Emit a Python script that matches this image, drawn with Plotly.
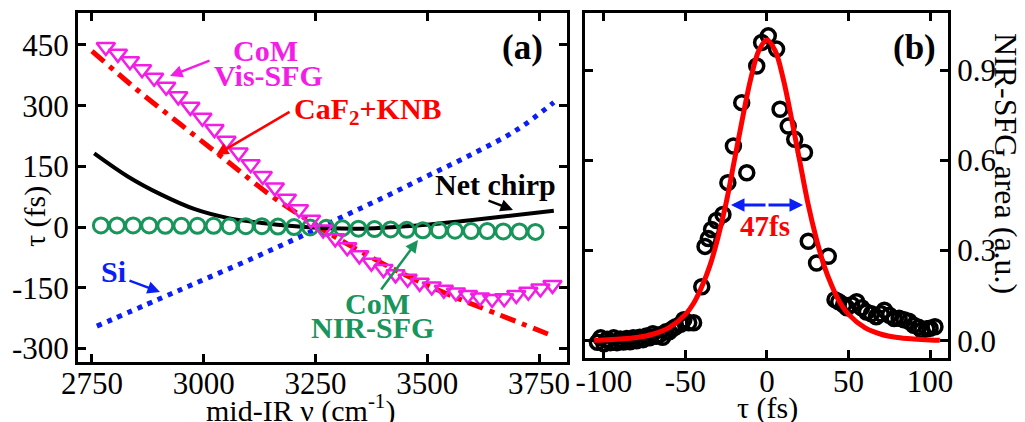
import plotly.graph_objects as go

W, H = 1025, 422
FONT = "Liberation Serif, Times New Roman, serif"

# ---------------- Panel (a) data ----------------
si_nu = [2761, 2900, 3000, 3100, 3200, 3300, 3400, 3500, 3600, 3700, 3783]
si_tau = [-245, -178, -130, -82, -32, 20, 72, 126, 180, 240, 308]

caf_nu = [2750, 2850, 2950, 3050, 3150, 3250, 3350, 3450, 3550, 3650, 3783]
caf_tau = [435, 340, 252, 165, 78, 5, -60, -118, -168, -212, -270]

net_nu = [2755, 2830, 2905, 2980, 3055, 3130, 3205, 3280, 3355, 3430, 3505, 3580, 3660, 3783]
net_tau = [182, 125, 80, 44, 22, 10, 2, -3, -4, 0, 6, 15, 25, 40]

vis_nu = [2781, 2808, 2835, 2862, 2889, 2916, 2943, 2970, 2997, 3024, 3051, 3078, 3105,
          3132, 3159, 3186, 3213, 3240, 3267, 3294, 3321, 3348, 3375, 3402, 3429, 3456,
          3483, 3510, 3537, 3564, 3591, 3618, 3645, 3672, 3699, 3726, 3753, 3780]
vis_tau = [445, 428, 410, 390, 369, 347, 323, 297, 270, 242, 213, 184, 155,
           126, 98, 70, 44, 18, -6, -28, -50, -70, -88, -104, -117, -128,
           -138, -147, -155, -162, -168, -174, -178, -176, -168, -160, -152, -143]

nir_nu = [2770, 2806, 2842, 2878, 2914, 2950, 2986, 3022, 3058, 3094, 3130, 3166, 3202, 3238,
          3274, 3310, 3346, 3382, 3418, 3454, 3490, 3526, 3562, 3598, 3634, 3670, 3706, 3742]
nir_tau = [4, 4, 4, 4, 3, 3, 3, 3, 2, 2, 2, 1, 0, -1,
           -2, -3, -4, -5, -6, -7, -8, -8, -9, -10, -10, -11, -11, -12]

a_xticks = [2750, 3000, 3250, 3500, 3750]
a_xticktext = ["2750", "3000", "3250", "3500", "3750"]
a_yticks = [-300, -150, 0, 150, 300, 450]
a_yticktext = ["-300", "-150", "0", "150", "300", "450"]

# ---------------- Panel (b) data ----------------
b_tau = [-104, -102, -100, -98, -96, -94, -92, -90, -88, -86, -84, -82, -80, -78, -76, -74,
         -72, -70, -68, -66, -64, -62, -60, -58, -56, -53, -51, -48, -45, -40, -38, -36,
         -34, -31, -27, -24, -20.6, -15.5, -12.4, -6.3, -3.3, 0.8, 5.9, 8, 13, 17, 23,
         25.3, 30.4, 37.6, 41.7, 44, 47, 49, 52, 55, 58, 61, 64, 67, 70, 72, 75, 78, 81,
         84, 87, 90, 93, 95, 98, 100, 103]
b_sig = [-0.005, 0.01, -0.01, 0.005, -0.006, 0.01, -0.006, 0.006, -0.004, 0.008, -0.003, 0.01,
         0.0, 0.012, 0.004, 0.016, 0.01, 0.024, 0.015, 0.02, 0.012, 0.03, 0.03, 0.04, 0.047,
         0.055, 0.07, 0.06, 0.06, 0.18, 0.314, 0.34, 0.37, 0.40, 0.42, 0.526, 0.648, 0.792,
         0.559, 0.914, 0.992, 1.014, 0.97, 0.77, 0.714, 0.67, 0.626, 0.331, 0.259, 0.281,
         0.137, 0.13, 0.12, 0.11, 0.12, 0.13, 0.11, 0.096, 0.09, 0.08, 0.09, 0.102, 0.085,
         0.074, 0.075, 0.07, 0.065, 0.052, 0.045, 0.035, 0.04, 0.042, 0.047]

fit_tau = [-106, -100, -90, -80, -70, -60, -50, -45, -40, -35, -30, -25, -20, -15, -10, -5, 0,
           5, 10, 15, 20, 25, 30, 35, 40, 45, 50, 60, 70, 80, 90, 100, 106]
fit_sig = [0.002, 0.003, 0.006, 0.011, 0.022, 0.044, 0.088, 0.125, 0.18, 0.25, 0.345, 0.46,
           0.6, 0.74, 0.87, 0.965, 1.0, 0.965, 0.87, 0.74, 0.6, 0.46, 0.345, 0.25, 0.18,
           0.125, 0.088, 0.044, 0.022, 0.011, 0.006, 0.003, 0.002]

b_xticks = [-100, -50, 0, 50, 100]
b_xticktext = ["-100", "-50", "0", "50", "100"]
b_yticks = [0.0, 0.3, 0.6, 0.9]
b_yticktext = ["0.0", "0.3", "0.6", "0.9"]

MAGENTA = "#F41DE6"
RED = "#FF0000"
BLUE = "#0A1EF5"
GREEN = "#17955A"

fig = go.Figure()

# Panel a traces
fig.add_trace(go.Scatter(x=si_nu, y=si_tau, mode="lines", line=dict(color=BLUE, width=5, dash="5px,6px", shape="spline"),
                         xaxis="x", yaxis="y", showlegend=False))
fig.add_trace(go.Scatter(x=caf_nu, y=caf_tau, mode="lines",
                         line=dict(color=RED, width=5, dash="16px,7px,5px,7px", shape="spline"),
                         xaxis="x", yaxis="y", showlegend=False))
fig.add_trace(go.Scatter(x=net_nu, y=net_tau, mode="lines", line=dict(color="black", width=4, shape="spline"),
                         xaxis="x", yaxis="y", showlegend=False))
fig.add_trace(go.Scatter(x=nir_nu, y=nir_tau, mode="markers",
                         marker=dict(symbol="circle-open", size=15, color=GREEN, line=dict(width=3, color=GREEN)),
                         xaxis="x", yaxis="y", showlegend=False))
fig.add_trace(go.Scatter(x=vis_nu, y=vis_tau, mode="markers",
                         marker=dict(symbol="triangle-down-open", size=16, color=MAGENTA, line=dict(width=2.5, color=MAGENTA)),
                         xaxis="x", yaxis="y", showlegend=False))

# Panel b traces
fig.add_trace(go.Scatter(x=b_tau, y=b_sig, mode="markers",
                         marker=dict(symbol="circle-open", size=14, color="black", line=dict(width=3.5, color="black")),
                         xaxis="x2", yaxis="y2", showlegend=False))
fig.add_trace(go.Scatter(x=fit_tau, y=fit_sig, mode="lines", line=dict(color=RED, width=5, shape="spline"),
                         xaxis="x2", yaxis="y2", showlegend=False))

axis_common = dict(showline=True, linecolor="black", linewidth=3, mirror="allticks", ticks="inside",
                   ticklen=8, tickwidth=3, tickcolor="black", showgrid=False, zeroline=False,
                   automargin=False, tickmode="array",
                   tickfont=dict(family=FONT, size=31, color="black"))

fig.update_layout(
    width=W, height=H, autosize=False,
    margin=dict(l=0, r=0, t=0, b=0, pad=0),
    paper_bgcolor="white", plot_bgcolor="white",
    xaxis=dict(domain=[78 / W, 567 / W], range=[2718.75, 3812.5], tickvals=a_xticks, ticktext=a_xticktext,
               anchor="y", ticklabelstandoff=-8, **axis_common),
    yaxis=dict(domain=[1 - 362 / H, 1 - 13 / H], range=[-333.6, 529], tickvals=a_yticks, ticktext=a_yticktext,
               anchor="x", **axis_common),
    xaxis2=dict(domain=[585 / W, 948 / W], range=[-111.6, 111], tickvals=b_xticks, ticktext=b_xticktext,
                anchor="y2", ticklabelstandoff=-6, **axis_common),
    yaxis2=dict(domain=[1 - 358 / H, 1 - 13 / H], range=[-0.057, 1.09], tickvals=b_yticks, ticktext=b_yticktext,
                side="right", anchor="x2", **axis_common),
)


def px(X):
    return X / W


def py(Y):
    return 1 - Y / H


anns = []


def text(X, Y, s, color="black", size=30, bold=True, angle=0):
    t = "<b>" + s + "</b>" if bold else s
    anns.append(dict(x=px(X), y=py(Y), xref="paper", yref="paper", text=t, showarrow=False,
                     xanchor="center", yanchor="middle", textangle=angle,
                     font=dict(family=FONT, size=size, color=color)))


def arrow(tx, ty, hx, hy, color, width=2.5, head=2, size=1.0):
    anns.append(dict(x=px(hx), y=py(hy), xref="paper", yref="paper", ax=tx - hx, ay=ty - hy,
                     axref="pixel", ayref="pixel", text="", showarrow=True, arrowhead=head,
                     arrowsize=size, arrowwidth=width, arrowcolor=color, standoff=0))


# Panel a labels
text(265, 50, "CoM", MAGENTA)
text(268, 76, "Vis-SFG", MAGENTA)
arrow(211, 60, 170, 76, MAGENTA)
text(368, 111, "CaF<sub>2</sub>+KNB", RED)
arrow(291, 111, 216, 155, RED)
text(495, 185, "Net chirp", "black")
arrow(487, 200, 513, 210, "black")
text(113, 271, "Si", BLUE)
arrow(128, 280, 160, 292, BLUE)
text(377, 303, "CoM", GREEN)
text(372, 327, "NIR-SFG", GREEN)
arrow(380, 291, 418, 240, GREEN)
text(522, 48, "(a)", "black", size=35)

# Panel b labels
text(914, 48, "(b)", "black", size=35)
text(765, 226, "47fs", RED, size=29)
arrow(767, 205, 731, 205, BLUE, width=3, head=2, size=0.9)
arrow(767, 205, 803, 205, BLUE, width=3, head=2, size=0.9)

# Axis titles
text(300, 408, "mid-IR ν (cm<sup>-1</sup>)", "black", size=30, bold=False)
text(767, 408, "τ (fs)", "black", size=30, bold=False)
text(35, 217, "τ (fs)", "black", size=30, bold=False, angle=-90)
text(1006, 163, "NIR-SFG area (a.u.)", "black", size=32, bold=False, angle=90)

fig.update_layout(annotations=anns)

fig.write_html("out.html", config={"displayModeBar": False},
               post_script="document.body.style.margin='0';document.body.style.overflow='hidden';")
